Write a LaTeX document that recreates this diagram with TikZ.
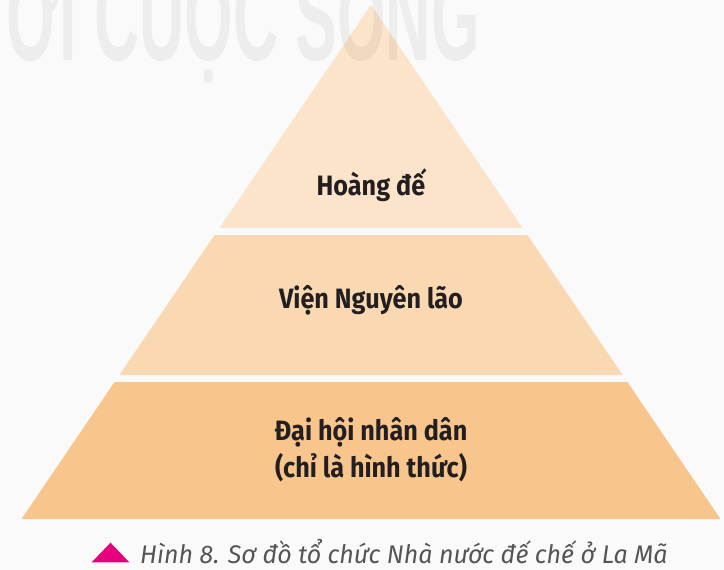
\documentclass[tikz,border=0pt]{standalone}
\usepackage{fontspec}
\setmainfont{Fira Sans}
\newfontfamily\tierfont[FakeStretch=0.9]{Fira Sans}
\newfontfamily\capfont[FakeStretch=0.98]{Fira Sans}
\newfontfamily\wmfont[FakeStretch=0.5]{Liberation Sans}
\definecolor{bgcol}{HTML}{FAFAFA}
\definecolor{tierA}{HTML}{FCE4CA}
\definecolor{tierB}{HTML}{FAD9B2}
\definecolor{tierC}{HTML}{F8C58D}
\definecolor{txtcol}{HTML}{231F20}
\definecolor{capcol}{HTML}{555555}
\definecolor{magmark}{HTML}{E6007E}
\begin{document}
\begin{tikzpicture}[x=1pt,y=-1pt,
  tierlabel/.style={font=\tierfont\bfseries\fontsize{28}{37}\selectfont, text=txtcol, align=center, inner sep=0pt},
  captext/.style={font=\capfont\itshape\fontsize{25.5}{30}\selectfont, text=capcol, inner sep=0pt},
  wmtext/.style={font=\wmfont\bfseries\fontsize{125}{125}\selectfont, text=black, text opacity=0.05, inner sep=0pt}]
\useasboundingbox (0,0) rectangle (724,570);
\fill[bgcol] (0,0) rectangle (724,570);
% pyramid corners
\coordinate (apex) at (371,5);
\coordinate (aL) at (219.4,228);
\coordinate (aR) at (522.6,228);
\coordinate (bTL) at (214.6,235);
\coordinate (bTR) at (527.4,235);
\coordinate (bBL) at (119.4,375);
\coordinate (bBR) at (622.6,375);
\coordinate (cTL) at (114.6,382);
\coordinate (cTR) at (627.4,382);
\coordinate (cBL) at (21.5,519);
\coordinate (cBR) at (720.5,519);
\fill[tierA] (apex) -- (aR) -- (aL) -- cycle;
\fill[tierB] (bTL) -- (bTR) -- (bBR) -- (bBL) -- cycle;
\fill[tierC] (cTL) -- (cTR) -- (cBR) -- (cBL) -- cycle;
% watermark
\node[wmtext, anchor=base west] (wm) at (6,60) {ỚI CUỘC SỐNG};
% labels
\node[tierlabel] (hoang) at (371,185) {Hoàng đế};
\node[tierlabel] (vien) at (371,300) {Viện Nguyên lão};
\node[tierlabel] (dai) at (371,450) {Đại hội nhân dân\\(chỉ là hình thức)};
% caption
\coordinate (mL) at (91.7,562.3);
\coordinate (mR) at (129.3,562.3);
\coordinate (mT) at (110.5,542.7);
\fill[magmark] (mL) -- (mR) -- (mT) -- cycle;
\node[captext, anchor=base west] (cap) at (140,563) {Hình 8. Sơ đồ tổ chức Nhà nước đế chế ở La Mã};
\end{tikzpicture}
\end{document}
